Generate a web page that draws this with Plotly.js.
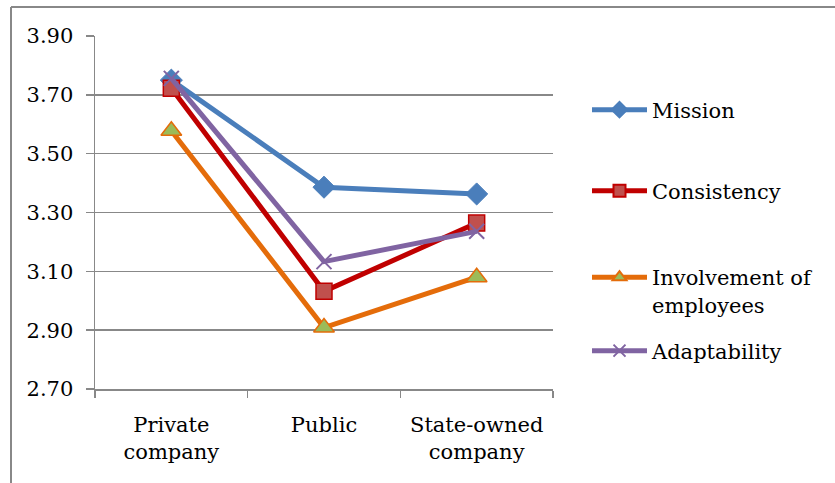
<!DOCTYPE html>
<html>
<head>
<meta charset="utf-8">
<script src="https://cdn.plot.ly/plotly-3.0.1.min.js"></script>
<style>html,body{margin:0;padding:0;background:#fff;} #chart{width:835px;height:483px;}</style>
</head>
<body>
<div id="chart"></div>
<script>
const categories = ["Private<br>company", "Public", "State-owned<br>company"];
const mission = [3.75, 3.386, 3.363];
const consistency = [3.722, 3.032, 3.264];
const involvement = [3.578, 2.909, 3.080];
const adaptability = [3.756, 3.133, 3.236];
const seriesNames = ["Mission", "Consistency", "Involvement of<br>employees", "Adaptability"];
const yTicks = [2.70, 2.90, 3.10, 3.30, 3.50, 3.70, 3.90];

const FONT = "DejaVu Serif";
const traces = [
  {x: categories, y: mission, name: seriesNames[0], legend: "legend", mode: "lines+markers",
   line: {color: "#4A7EBB", width: 5}, marker: {symbol: "diamond", size: 17, color: "#4A7EBB", line: {color: "#4A7EBB", width: 1}}},
  {x: categories, y: consistency, name: seriesNames[1], legend: "legend2", mode: "lines+markers",
   line: {color: "#C00000", width: 5}, marker: {symbol: "square", size: 16, color: "#C0504D", line: {color: "#C00000", width: 1.5}}},
  {x: categories, y: involvement, name: seriesNames[2], legend: "legend3", mode: "lines+markers",
   line: {color: "#E46C0A", width: 5}, marker: {symbol: "triangle-up", size: 18, color: "#9BBB59", line: {color: "#E46C0A", width: 1.5}}},
  {x: categories, y: adaptability, name: seriesNames[3], legend: "legend4", mode: "lines+markers",
   line: {color: "#8064A2", width: 5}, marker: {symbol: "x-thin", size: 15, color: "#8064A2", line: {color: "#8064A2", width: 2}}}
];

function lg(ypx) {
  return {x: (587 - 95) / 458, xanchor: "left", y: (389 - ypx) / 353, yanchor: "middle",
    bgcolor: "rgba(0,0,0,0)", font: {family: FONT, size: 21, color: "#000"}, itemwidth: 55, valign: "top",
    itemsizing: "constant"};
}
const layout = {
  width: 835, height: 483,
  margin: {l: 95, r: 282, t: 36, b: 94},
  paper_bgcolor: "#fff", plot_bgcolor: "#fff",
  font: {family: FONT, size: 21, color: "#000"},
  showlegend: true,
  legend: lg(110), legend2: lg(191), legend3: Object.assign(lg(272), {yanchor: "top", y: (389 - 257) / 353}), legend4: lg(351),
  xaxis: {type: "category", range: [-0.5, 2.5], tickson: "boundaries", ticks: "outside", ticklen: 7,
    tickcolor: "#888", tickwidth: 1.5, showline: true, linecolor: "#888", linewidth: 1.5, showgrid: false,
    zeroline: false, tickfont: {family: FONT, size: 21, color: "#000"}, ticklabelstandoff: 16, fixedrange: true},
  yaxis: {range: [2.70, 3.90], tickvals: yTicks, ticktext: yTicks.map(v => v.toFixed(2)), ticks: "outside", ticklen: 8,
    tickcolor: "#888", tickwidth: 1.5, showline: true, linecolor: "#888", linewidth: 1.5, showgrid: true,
    gridcolor: "#888", gridwidth: 1.5, zeroline: false, tickfont: {family: FONT, size: 21, color: "#000"},
    ticklabelstandoff: 8, fixedrange: true},
  shapes: [
    {type: "line", xref: "paper", yref: "paper", x0: (11 - 95) / 458, x1: (11 - 95) / 458, y0: (389 - 483) / 353 - 0.05, y1: (389 - 7) / 353,
     line: {color: "#888", width: 2}},
    {type: "line", xref: "paper", yref: "paper", x0: (11 - 95) / 458, x1: (840 - 95) / 458, y0: (389 - 7) / 353, y1: (389 - 7) / 353,
     line: {color: "#888", width: 2}}
  ]
};
Plotly.newPlot("chart", traces, layout, {displayModeBar: false, staticPlot: true});
</script>
</body>
</html>
